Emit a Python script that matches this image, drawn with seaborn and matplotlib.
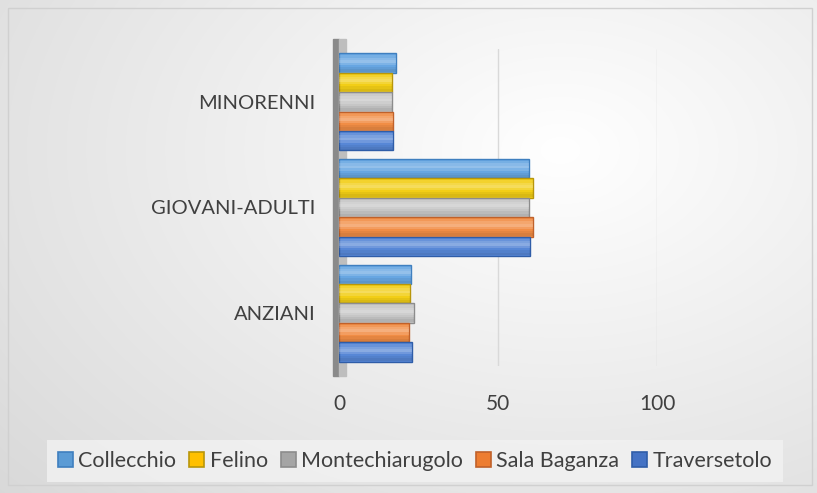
import numpy as np
import pandas as pd
import matplotlib.pyplot as plt
import seaborn as sns
from matplotlib.patches import Rectangle, Patch
from matplotlib.transforms import blended_transform_factory

# data (percent per age group)
categories = ["MINORENNI", "GIOVANI-ADULTI", "ANZIANI"]
comuni = ["Collecchio", "Felino", "Montechiarugolo", "Sala Baganza", "Traversetolo"]

collecchio = [17.9, 59.6, 22.5]
felino = [16.7, 61.1, 22.2]
montechiarugolo = [16.7, 59.6, 23.7]
sala_baganza = [17.0, 61.1, 21.9]
traversetolo = [17.0, 60.2, 22.8]

bar_colors = ["#67A6E2", "#F2CE16", "#C6C6C6", "#F18D45", "#5787D6"]
edge_colors = ["#3F7FBF", "#B8960A", "#8C8C8C", "#C0612A", "#2F5DA8"]
legend_colors = ["#5B9BD5", "#FFC000", "#A5A5A5", "#ED7D31", "#4472C4"]

values = [collecchio, felino, montechiarugolo, sala_baganza, traversetolo]
rows = []
for comune, vals in zip(comuni, values):
    for cat, v in zip(categories, vals):
        rows.append({"gruppo": cat, "comune": comune, "valore": v})
df = pd.DataFrame(rows)

sns.set_style("white")
plt.rcParams["font.family"] = ["Lato", "DejaVu Sans"]

W, H = 817, 493
fig = plt.figure(figsize=(W / 100, H / 100), dpi=100)

# radial gradient background
bg = fig.add_axes([0, 0, 1, 1], zorder=-10)
yy, xx = np.mgrid[0:H, 0:W]
d = np.sqrt(((xx - 560) / 620) ** 2 + ((yy - 150) / 420) ** 2)
shade = 1 - 0.16 * np.clip(d, 0, 1.3) / 1.3
bg.imshow(np.dstack([shade, shade, shade]), aspect="auto", extent=[0, 1, 0, 1])
bg.axis("off")

ax = fig.add_axes([339 / W, 1 - 366 / H, (657 - 339) / W, 317 / H])
ax.patch.set_alpha(0)

sns.barplot(data=df, y="gruppo", x="valore", hue="comune", order=categories,
            hue_order=comuni, palette=bar_colors, orient="h", width=0.92,
            ax=ax, errorbar=None, saturation=1)

# soft cylinder shading: light band near the top, darker near the bottom
shading = [(0.10, 0.12, "white", 0.10), (0.22, 0.12, "white", 0.22),
           (0.34, 0.14, "white", 0.30), (0.48, 0.12, "white", 0.15),
           (0.70, 0.12, "black", 0.05), (0.82, 0.14, "black", 0.10)]
for i, cont in enumerate(ax.containers):
    for bar in cont:
        bar.set_edgecolor(edge_colors[i])
        bar.set_linewidth(1.0)
        bar.set_zorder(2)
        bx, by = bar.get_x(), bar.get_y()
        bw, bh = bar.get_width(), bar.get_height()
        for off, h, c, a in shading:
            ax.add_patch(Rectangle((bx, by + bh * off), bw, bh * h,
                                   color=c, alpha=a, lw=0, zorder=3))

ax.legend_.remove()

ax.set_xlim(0, 100)
ax.set_ylim(2.5, -0.5)
ax.set_xticks([0, 50, 100])
for x in [50, 100]:
    ax.axvline(x, color="#D9D9D9", lw=1, zorder=0)

# 3D wall on the left, behind the bars
trans = blended_transform_factory(ax.transData, ax.transAxes)
ax.add_patch(Rectangle((-2.0, -0.03), 2.0, 1.06, transform=trans,
                       color="#8A8A8A", clip_on=False, zorder=0.5))
ax.add_patch(Rectangle((0, -0.03), 2.2, 1.06, transform=trans,
                       color="#BEBEBE", clip_on=False, zorder=0.5))

for s in ax.spines.values():
    s.set_visible(False)
ax.set_xlabel("")
ax.set_ylabel("")
ax.tick_params(axis="x", length=0, pad=20, labelsize=15, colors="#404040")
ax.tick_params(axis="y", length=0, pad=17, labelsize=14.5, colors="#404040")

handles = [Patch(facecolor=c, edgecolor=e, lw=1.2) for c, e in zip(legend_colors, edge_colors)]
leg = fig.legend(handles, comuni, loc="center", bbox_to_anchor=(415 / W, 1 - 461 / H),
                 ncol=5, fontsize=15.5, frameon=True, fancybox=False,
                 handlelength=0.7, handleheight=0.7, handletextpad=0.25,
                 columnspacing=0.6, borderpad=0.5)
leg.get_frame().set_facecolor("#F2F2F2")
leg.get_frame().set_edgecolor("none")
for t in leg.get_texts():
    t.set_color("#404040")

fig.add_artist(Rectangle((8 / W, 8 / H), 804 / W, 477 / H, transform=fig.transFigure,
                         fill=False, edgecolor="#D0D0D0", lw=1))

fig.savefig("out.png", dpi=100)
